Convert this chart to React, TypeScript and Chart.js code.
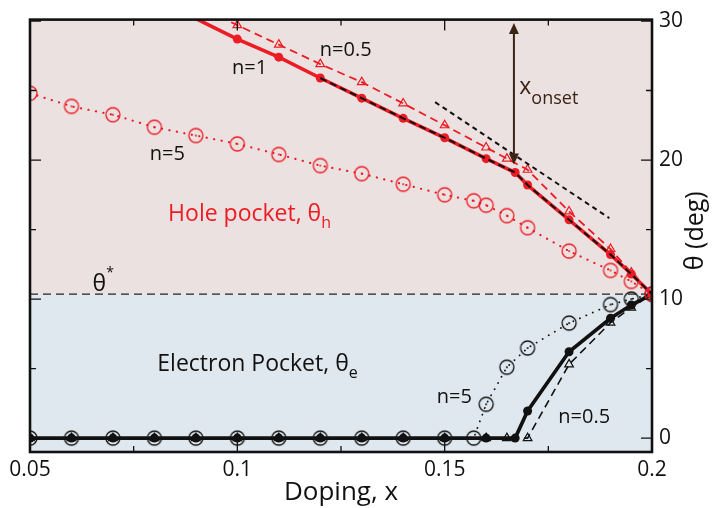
import React, { useEffect, useRef } from "react";
import { Chart, registerables } from "chart.js";

Chart.register(...registerables);

// ---------- data ----------
const X_MIN = 0.05;
const X_MAX = 0.2;
const Y_MIN = -1;
const Y_MAX = 30.1;

const xTicks = [0.05, 0.1, 0.15, 0.2];
const xTickLabels = ["0.05", "0.1", "0.15", "0.2"];
const xMinorTicks = [0.075, 0.125, 0.175];
const yTicks = [0, 10, 20, 30];
const yTickLabels = ["0", "10", "20", "30"];
const yMinorTicks = [5, 15, 25];

const xTitle = "Doping, x";
const yTitle = "θ (deg)";

const thetaStar = 10.35;

// hole pocket (red)
const holeN1X = [0.09, 0.1, 0.11, 0.12, 0.13, 0.14, 0.15, 0.16, 0.167, 0.17, 0.18, 0.19, 0.195, 0.2];
const holeN1Y = [30.17, 28.7, 27.4, 25.9, 24.45, 23.0, 21.6, 20.1, 19.1, 18.2, 15.7, 13.2, 11.8, 10.35];

const holeN05X = [0.09, 0.1, 0.11, 0.12, 0.13, 0.14, 0.15, 0.16, 0.165, 0.17, 0.18, 0.19, 0.195, 0.2];
const holeN05Y = [31.1, 29.7, 28.3, 26.9, 25.6, 24.07, 22.5, 20.9, 20.1, 19.3, 16.3, 13.6, 11.9, 10.35];

const holeN5X = [0.05, 0.06, 0.07, 0.08, 0.09, 0.1, 0.11, 0.12, 0.13, 0.14, 0.15, 0.157, 0.16, 0.165, 0.17, 0.18, 0.19, 0.195, 0.2];
const holeN5Y = [24.8, 23.86, 23.26, 22.36, 21.76, 21.16, 20.4, 19.6, 19.02, 18.26, 17.5, 17.07, 16.75, 16.0, 15.13, 13.45, 12.06, 11.27, 10.35];

// black dashed fit drawn over the n=1 hole curve
const fitX = [0.12, 0.13, 0.14, 0.15, 0.16, 0.167, 0.17, 0.18, 0.19, 0.195, 0.2];
const fitY = [25.9, 24.45, 23.0, 21.6, 20.1, 19.1, 18.2, 15.7, 13.2, 11.8, 10.35];

// tangent line
const tangentX = [0.1477, 0.1897];
const tangentY = [24.16, 15.82];

// electron pocket (black)
const elecN1X = [0.05, 0.06, 0.07, 0.08, 0.09, 0.1, 0.11, 0.12, 0.13, 0.14, 0.15, 0.16, 0.167, 0.17, 0.18, 0.19, 0.195, 0.2];
const elecN1Y = [0, 0, 0, 0, 0, 0, 0, 0, 0, 0, 0, 0, 0, 1.95, 6.21, 8.62, 9.57, 10.35];

const elecN05X = [0.05, 0.06, 0.07, 0.08, 0.09, 0.1, 0.11, 0.12, 0.13, 0.14, 0.15, 0.16, 0.165, 0.17, 0.18, 0.19, 0.195, 0.2];
const elecN05Y = [0, 0, 0, 0, 0, 0, 0, 0, 0, 0, 0, 0, 0, 0, 5.3, 8.3, 9.38, 10.35];

const elecN5X = [0.05, 0.06, 0.07, 0.08, 0.09, 0.1, 0.11, 0.12, 0.13, 0.14, 0.15, 0.157, 0.16, 0.165, 0.17, 0.18, 0.19, 0.195, 0.2];
const elecN5Y = [0, 0, 0, 0, 0, 0, 0, 0, 0, 0, 0, 0, 2.43, 5.1, 6.48, 8.27, 9.6, 10.0, 10.35];

const thetaStarX = [0.05, 0.2];
const thetaStarY = [thetaStar, thetaStar];

// x_onset arrow
const onsetX = 0.1667;
const onsetTop = 29.85;
const onsetBottom = 19.67;

// ---------- styles ----------
const FONT = "'Open Sans', 'Noto Sans', sans-serif";
const RED = "#ed1c24";
const BLACK = "#111111";
const BROWN = "#3c2415";
const PINK = "#ebe1e0";
const BLUE = "#dfe8ee";

type Part = { t: string; size: number; dy?: number };
type Label = { x: number; y: number; color: string; parts: Part[] };

const labels: Label[] = [
  { x: 0.0987, y: 26.16, color: BLACK, parts: [{ t: "n=1", size: 20 }] },
  { x: 0.1199, y: 27.46, color: BLACK, parts: [{ t: "n=0.5", size: 20 }] },
  { x: 0.0789, y: 20.0, color: BLACK, parts: [{ t: "n=5", size: 20 }] },
  { x: 0.0833, y: 15.61, color: RED, parts: [{ t: "Hole pocket, θ", size: 23 }, { t: "h", size: 16, dy: 7 }] },
  { x: 0.0651, y: 10.55, color: BLACK, parts: [{ t: "θ", size: 23 }, { t: "*", size: 14, dy: -14 }] },
  { x: 0.0807, y: 4.85, color: BLACK, parts: [{ t: "Electron Pocket, θ", size: 23 }, { t: "e", size: 16, dy: 7 }] },
  { x: 0.1481, y: 2.52, color: BLACK, parts: [{ t: "n=5", size: 20 }] },
  { x: 0.1774, y: 1.09, color: BLACK, parts: [{ t: "n=0.5", size: 20 }] },
  { x: 0.168, y: 24.75, color: BROWN, parts: [{ t: "x", size: 23 }, { t: "onset", size: 18, dy: 10 }] },
];

function zip(xs: number[], ys: number[]) {
  return xs.map((x, i) => ({ x, y: ys[i] }));
}

function dotCircle(color: string, r: number) {
  const s = Math.ceil(r * 2 + 4);
  const c = document.createElement("canvas");
  c.width = s;
  c.height = s;
  const g = c.getContext("2d")!;
  g.strokeStyle = color;
  g.lineWidth = 1.3;
  g.beginPath();
  g.arc(s / 2, s / 2, r, 0, Math.PI * 2);
  g.stroke();
  g.fillStyle = color;
  g.beginPath();
  g.arc(s / 2, s / 2, 1, 0, Math.PI * 2);
  g.fill();
  return c;
}

const hideAbove = (r: number) => (c: any) => (c.raw && c.raw.y > Y_MAX ? 0 : r);

const decor = {
  id: "decor",
  beforeDatasetsDraw(chart: any) {
    const { ctx, chartArea, scales } = chart;
    const { left, right, top, bottom } = chartArea;
    const ys = scales.y.getPixelForValue(thetaStar);
    ctx.save();
    ctx.fillStyle = PINK;
    ctx.fillRect(left, top, right - left, ys - top);
    ctx.fillStyle = BLUE;
    ctx.fillRect(left, ys, right - left, bottom - ys);
    ctx.restore();
  },
  afterDatasetsDraw(chart: any) {
    const { ctx, chartArea, scales } = chart;
    const { left, right, top, bottom } = chartArea;
    const xs = scales.x;
    const ysc = scales.y;
    ctx.save();

    // arrow
    const ax = xs.getPixelForValue(onsetX);
    const ay1 = ysc.getPixelForValue(onsetTop);
    const ay2 = ysc.getPixelForValue(onsetBottom);
    ctx.strokeStyle = BROWN;
    ctx.fillStyle = BROWN;
    ctx.lineWidth = 2;
    ctx.beginPath();
    ctx.moveTo(ax, ay1 + 8);
    ctx.lineTo(ax, ay2 - 8);
    ctx.stroke();
    ctx.beginPath();
    ctx.moveTo(ax, ay1);
    ctx.lineTo(ax - 5, ay1 + 11);
    ctx.lineTo(ax + 5, ay1 + 11);
    ctx.closePath();
    ctx.fill();
    ctx.beginPath();
    ctx.moveTo(ax, ay2);
    ctx.lineTo(ax - 5, ay2 - 11);
    ctx.lineTo(ax + 5, ay2 - 11);
    ctx.closePath();
    ctx.fill();

    // labels
    ctx.textBaseline = "alphabetic";
    ctx.textAlign = "left";
    for (const l of labels) {
      let px = xs.getPixelForValue(l.x);
      const py = ysc.getPixelForValue(l.y);
      ctx.fillStyle = l.color;
      for (const p of l.parts) {
        ctx.font = `${p.size}px ${FONT}`;
        ctx.fillText(p.t, px, py + (p.dy || 0));
        px += ctx.measureText(p.t).width;
      }
    }

    // frame
    ctx.strokeStyle = BLACK;
    ctx.lineWidth = 2.6;
    ctx.strokeRect(left, top, right - left, bottom - top);

    // ticks
    ctx.lineWidth = 1.3;
    ctx.beginPath();
    const tx = (v: number, len: number) => {
      const p = xs.getPixelForValue(v);
      ctx.moveTo(p, bottom);
      ctx.lineTo(p, bottom - len);
      ctx.moveTo(p, top);
      ctx.lineTo(p, top + len);
    };
    const ty = (v: number, len: number) => {
      const p = ysc.getPixelForValue(v);
      ctx.moveTo(left, p);
      ctx.lineTo(left + len, p);
      ctx.moveTo(right, p);
      ctx.lineTo(right - len, p);
    };
    xTicks.forEach((v) => tx(v, 11));
    xMinorTicks.forEach((v) => tx(v, 6));
    yTicks.forEach((v) => ty(v, 11));
    yMinorTicks.forEach((v) => ty(v, 6));
    ctx.stroke();

    ctx.restore();
  },
  afterDraw(chart: any) {
    const { ctx, chartArea } = chart;
    ctx.save();
    ctx.fillStyle = BLACK;
    ctx.font = `25px ${FONT}`;
    ctx.textAlign = "center";
    ctx.textBaseline = "middle";
    ctx.translate(chartArea.right + 44, (chartArea.top + chartArea.bottom) / 2 - 5);
    ctx.rotate(-Math.PI / 2);
    ctx.fillText(yTitle, 0, 0);
    ctx.restore();
  },
};

export default function App() {
  const ref = useRef<HTMLCanvasElement>(null);

  useEffect(() => {
    const canvas = ref.current!;
    const dotRed = dotCircle(RED, 7);
    const dotBlack = dotCircle(BLACK, 7);

    const chart = new Chart(canvas, {
      type: "line",
      data: {
        datasets: [
          {
            label: "fit",
            data: zip(fitX, fitY),
            borderColor: BLACK,
            borderWidth: 2,
            borderDash: [7, 4],
            pointRadius: 0,
            order: 0,
          },
          {
            label: "tangent",
            data: zip(tangentX, tangentY),
            borderColor: BLACK,
            borderWidth: 2,
            borderDash: [5, 4],
            pointRadius: 0,
            order: 1,
          },
          {
            label: "hole n=1",
            data: zip(holeN1X, holeN1Y),
            borderColor: RED,
            backgroundColor: RED,
            borderWidth: 3.6,
            pointStyle: "circle",
            pointRadius: hideAbove(4.5),
            pointBorderWidth: 0,
            order: 2,
          },
          {
            label: "hole n=0.5",
            data: zip(holeN05X, holeN05Y),
            borderColor: RED,
            backgroundColor: "transparent",
            borderWidth: 1.8,
            borderDash: [8, 5],
            pointStyle: "triangle",
            pointRadius: hideAbove(5),
            pointBorderWidth: 1.2,
            order: 3,
          },
          {
            label: "hole n=5",
            data: zip(holeN5X, holeN5Y),
            borderColor: RED,
            borderWidth: 2.2,
            borderDash: [0.1, 7.5],
            borderCapStyle: "round",
            pointStyle: dotRed,
            pointRadius: 7,
            order: 4,
          },
          {
            label: "elec n=1",
            data: zip(elecN1X, elecN1Y),
            borderColor: BLACK,
            backgroundColor: BLACK,
            borderWidth: 3.6,
            pointStyle: "circle",
            pointRadius: 4.5,
            pointBorderWidth: 0,
            order: 5,
          },
          {
            label: "elec n=0.5",
            data: zip(elecN05X, elecN05Y),
            borderColor: BLACK,
            backgroundColor: "transparent",
            borderWidth: 1.6,
            borderDash: [8, 5],
            pointStyle: "triangle",
            pointRadius: 5,
            pointBorderWidth: 1.2,
            order: 6,
          },
          {
            label: "elec n=5",
            data: zip(elecN5X, elecN5Y),
            borderColor: BLACK,
            borderWidth: 1.8,
            borderDash: [0.1, 7],
            borderCapStyle: "round",
            pointStyle: dotBlack,
            pointRadius: 7,
            order: 7,
          },
          {
            label: "theta*",
            data: zip(thetaStarX, thetaStarY),
            borderColor: "#222222",
            borderWidth: 1.3,
            borderDash: [8, 5],
            pointRadius: 0,
            order: 8,
          },
        ] as any,
      },
      options: {
        animation: false,
        responsive: false,
        devicePixelRatio: 1,
        parsing: true,
        layout: { padding: { left: 30, top: 16, right: 0, bottom: 0 } },
        plugins: {
          legend: { display: false },
          tooltip: { enabled: false },
        },
        elements: { line: { tension: 0 } },
        scales: {
          x: {
            type: "linear",
            min: X_MIN,
            max: X_MAX,
            grid: { display: false, drawTicks: false },
            border: { display: false },
            afterBuildTicks: (s: any) => {
              s.ticks = xTicks.map((v) => ({ value: v }));
            },
            afterFit: (s: any) => {
              s.height = 56;
            },
            ticks: {
              autoSkip: false,
              maxRotation: 0,
              padding: 5,
              color: BLACK,
              font: { family: FONT, size: 21 },
              callback: (_v: any, i: number) => xTickLabels[i],
            },
            title: {
              display: true,
              text: xTitle,
              color: BLACK,
              font: { family: FONT, size: 26 },
              padding: { top: 0, bottom: 0 },
            },
          },
          y: {
            type: "linear",
            position: "right",
            min: Y_MIN,
            max: Y_MAX,
            grid: { display: false, drawTicks: false },
            border: { display: false },
            afterBuildTicks: (s: any) => {
              s.ticks = yTicks.map((v) => ({ value: v }));
            },
            afterFit: (s: any) => {
              s.width = 65;
            },
            ticks: {
              padding: 7,
              color: BLACK,
              font: { family: FONT, size: 21 },
              callback: (_v: any, i: number) => yTickLabels[i],
            },
          },
        },
      } as any,
      plugins: [decor],
    });
    return () => chart.destroy();
  }, []);

  return (
    <div style={{ position: "absolute", left: 0, top: 0, width: 717, height: 508, background: "#fff" }}>
      <canvas ref={ref} width={717} height={508} style={{ display: "block" }} />
    </div>
  );
}
